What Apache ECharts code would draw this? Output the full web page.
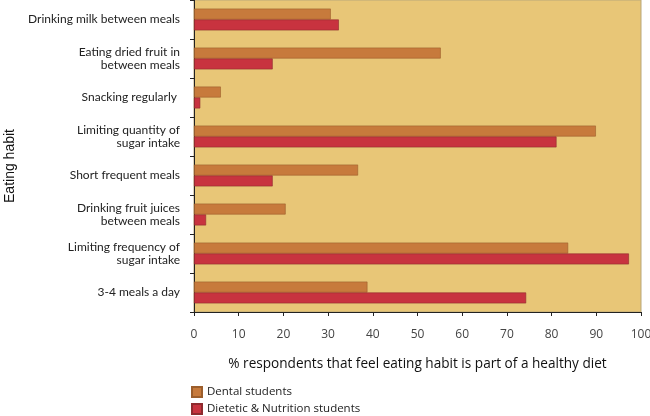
<!DOCTYPE html>
<html>
<head>
<meta charset="utf-8">
<script src="https://cdn.jsdelivr.net/npm/echarts@6/dist/echarts.min.js"></script>
<style>html,body{margin:0;padding:0;background:#fff}#c{width:650px;height:416px}</style>
</head>
<body>
<div id="c"></div>
<script>
var categories = [
  "Drinking milk between meals",
  "Eating dried fruit in\nbetween meals",
  "Snacking regularly ",
  "Limiting quantity of\nsugar intake",
  "Short frequent meals",
  "Drinking fruit juices\nbetween meals",
  "Limiting frequency of\nsugar intake",
  "3-4 meals a day"
];
var dentalStudents = [30.6, 55.2, 6.0, 89.9, 36.7, 20.5, 83.7, 38.8];
var dieteticStudents = [32.4, 17.6, 1.4, 81.1, 17.6, 2.7, 97.3, 74.3];
var xTicks = [0, 10, 20, 30, 40, 50, 60, 70, 80, 90, 100];

var font = "Open Sans";
var chart = echarts.init(document.getElementById('c'), null, {renderer: 'canvas'});
chart.setOption({
  animation: false,
  textStyle: {fontFamily: font},
  grid: {left: 194, right: 9, top: 0, bottom: 104, show: true, backgroundColor: '#E8C677', borderColor: '#b9a77a', borderWidth: 1, containLabel: false, outerBoundsMode: 'none'},
  legend: {
    orient: 'vertical', left: 186, top: 381, height: 40, itemWidth: 10, itemHeight: 10, itemGap: 5, icon: 'rect',
    textStyle: {fontFamily: font, fontSize: 11.5, color: '#222'},
    data: ['Dental students', 'Dietetic & Nutrition students']
  },
  xAxis: {
    type: 'value', min: xTicks[0], max: xTicks[xTicks.length - 1], interval: 10,
    name: '% respondents that feel eating habit is part of a healthy diet',
    nameLocation: 'middle', nameGap: 45,
    nameTextStyle: {fontFamily: font, fontSize: 13.6, color: '#111'},
    axisLine: {show: true, lineStyle: {color: '#222', width: 1}},
    axisTick: {show: true, length: 4, lineStyle: {color: '#222'}},
    axisLabel: {fontFamily: font, fontSize: 12, color: '#444', margin: 17},
    splitLine: {show: false}
  },
  yAxis: {
    type: 'category', inverse: true, data: categories,
    name: 'Eating habit', nameLocation: 'middle', nameGap: 153, nameRotate: 90,
    nameTextStyle: {fontFamily: 'Liberation Sans', fontSize: 14, color: '#111', padding: [0, 20, 0, 0]},
    axisLine: {show: true, lineStyle: {color: '#222', width: 1}},
    axisTick: {show: true, length: 4, lineStyle: {color: '#222'}},
    axisLabel: {fontFamily: 'Lato', fontSize: 12, color: '#222', margin: 14, lineHeight: 13, align: 'right'}
  },
  series: [
    {name: 'Dental students', type: 'bar', data: dentalStudents, barGap: '0%', barCategoryGap: '44%',
     itemStyle: {color: '#C77A3C', borderColor: '#9c5e2c', borderWidth: 0.6}},
    {name: 'Dietetic & Nutrition students', type: 'bar', data: dieteticStudents,
     itemStyle: {color: '#C8333F', borderColor: '#8e2a2e', borderWidth: 0.6}}
  ]
});
</script>
</body>
</html>
